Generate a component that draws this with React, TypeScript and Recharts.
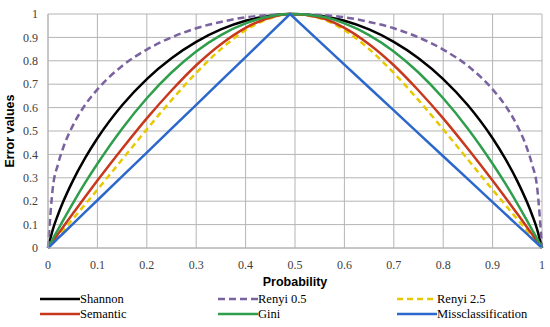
import React from 'react';
import { LineChart, Line, XAxis, YAxis, CartesianGrid } from 'recharts';

// probability values along the x axis (peak sits just left of 0.5 in the source)
const probability = [0, 0.01, 0.02, 0.03, 0.05, 0.075, 0.1, 0.15, 0.2, 0.25, 0.3, 0.35, 0.4, 0.45, 0.49, 0.55, 0.6, 0.65, 0.7, 0.75, 0.8, 0.85, 0.9, 0.925, 0.95, 0.97, 0.98, 0.99, 1];

const shannon = [0, 0.081, 0.141, 0.194, 0.286, 0.384, 0.469, 0.61, 0.722, 0.811, 0.881, 0.934, 0.971, 0.993, 1, 0.993, 0.971, 0.934, 0.881, 0.811, 0.722, 0.61, 0.469, 0.384, 0.286, 0.194, 0.141, 0.081, 0];
const renyi05 = [0, 0.262, 0.356, 0.424, 0.522, 0.611, 0.678, 0.778, 0.848, 0.9, 0.939, 0.966, 0.986, 0.996, 1, 0.996, 0.986, 0.966, 0.939, 0.9, 0.848, 0.778, 0.678, 0.611, 0.522, 0.424, 0.356, 0.262, 0];
const renyi25 = [0, 0.024, 0.049, 0.073, 0.123, 0.186, 0.249, 0.378, 0.507, 0.632, 0.748, 0.85, 0.931, 0.982, 1, 0.982, 0.931, 0.85, 0.748, 0.632, 0.507, 0.378, 0.249, 0.186, 0.123, 0.073, 0.049, 0.024, 0];
const semantic = [0, 0.03, 0.059, 0.088, 0.146, 0.218, 0.288, 0.424, 0.554, 0.673, 0.781, 0.871, 0.941, 0.985, 1, 0.985, 0.941, 0.871, 0.781, 0.673, 0.554, 0.424, 0.288, 0.218, 0.146, 0.088, 0.059, 0.03, 0];
const gini = [0, 0.04, 0.078, 0.116, 0.19, 0.278, 0.36, 0.51, 0.64, 0.75, 0.84, 0.91, 0.96, 0.99, 1, 0.99, 0.96, 0.91, 0.84, 0.75, 0.64, 0.51, 0.36, 0.278, 0.19, 0.116, 0.078, 0.04, 0];
const missclassification = [0, 0.02, 0.041, 0.061, 0.102, 0.153, 0.204, 0.306, 0.408, 0.51, 0.612, 0.714, 0.816, 0.918, 1, 0.882, 0.784, 0.686, 0.588, 0.49, 0.392, 0.294, 0.196, 0.147, 0.098, 0.059, 0.039, 0.02, 0];

const ticks = [0, 0.1, 0.2, 0.3, 0.4, 0.5, 0.6, 0.7, 0.8, 0.9, 1];

const series = [
  { key: 'shannon', name: 'Shannon', color: '#000000', dash: undefined, type: 'monotone' },
  { key: 'renyi05', name: 'Renyi 0.5', color: '#7a62a0', dash: '7 4', type: 'monotone' },
  { key: 'renyi25', name: 'Renyi 2.5', color: '#e8c800', dash: '6 4', type: 'monotone' },
  { key: 'semantic', name: 'Semantic', color: '#c8381c', dash: undefined, type: 'monotone' },
  { key: 'gini', name: 'Gini', color: '#2f9e4c', dash: undefined, type: 'monotone' },
  { key: 'missclassification', name: 'Missclassification', color: '#2c68cc', dash: undefined, type: 'linear' },
];

const data = probability.map((p, i) => ({
  p,
  shannon: shannon[i],
  renyi05: renyi05[i],
  renyi25: renyi25[i],
  semantic: semantic[i],
  gini: gini[i],
  missclassification: missclassification[i],
}));

const tickStyle = { fontFamily: '"Liberation Serif", serif', fontSize: 12, fill: '#404040' };
const titleFont = '"Liberation Sans", Arial, sans-serif';

// legend grid: 3 columns, 2 rows like the Excel original
const legendCols = [40, 218, 397];
const legendRows = [292, 307];

const App: React.FC = () => {
  return (
    <div style={{ position: 'absolute', left: 0, top: 0, width: 550, height: 327, background: '#fff' }}>
      <LineChart width={550} height={327} data={data} margin={{ top: 14, right: 8, left: 0, bottom: 39 }}>
        <CartesianGrid stroke="#b4b4b4" strokeWidth={1} verticalCoordinatesGenerator={undefined} />
        <XAxis
          dataKey="p"
          type="number"
          domain={[0, 1]}
          ticks={ticks}
          height={40}
          tickLine={false}
          tickSize={0}
          tickMargin={12}
          axisLine={{ stroke: '#b4b4b4' }}
          tick={tickStyle}
          interval={0}
        />
        <YAxis
          type="number"
          domain={[0, 1]}
          ticks={ticks}
          width={48}
          tickLine={false}
          tickSize={0}
          tickMargin={10}
          axisLine={{ stroke: '#b4b4b4' }}
          tick={tickStyle}
          interval={0}
        />
        {series.map((s) => (
          <Line
            key={s.key}
            dataKey={s.key}
            name={s.name}
            type={s.type as any}
            stroke={s.color}
            strokeWidth={2.5}
            strokeDasharray={s.dash}
            dot={false}
            isAnimationActive={false}
          />
        ))}
        <text x={295} y={282} textAnchor="middle" dominantBaseline="central" fontFamily={titleFont} fontWeight="bold" fontSize={12.5} fill="#000">
          Probability
        </text>
        <text x={10} y={131} transform="rotate(-90 10 131)" textAnchor="middle" dominantBaseline="central" fontFamily={titleFont} fontWeight="bold" fontSize={12.5} fill="#000">
          Error values
        </text>
      </LineChart>
      {series.map((s, i) => (
        <div
          key={s.key}
          style={{
            position: 'absolute',
            left: legendCols[i % 3],
            top: legendRows[Math.floor(i / 3)],
            display: 'flex',
            alignItems: 'center',
            height: 14,
            fontFamily: '"Liberation Serif", serif',
            fontSize: 12.5,
            color: '#000',
            whiteSpace: 'nowrap',
          }}
        >
          <svg width={40} height={14}>
            <line x1={0} y1={7} x2={40} y2={7} stroke={s.color} strokeWidth={2.5} strokeDasharray={s.dash} />
          </svg>
          <span>{s.name}</span>
        </div>
      ))}
    </div>
  );
};

export default App;
